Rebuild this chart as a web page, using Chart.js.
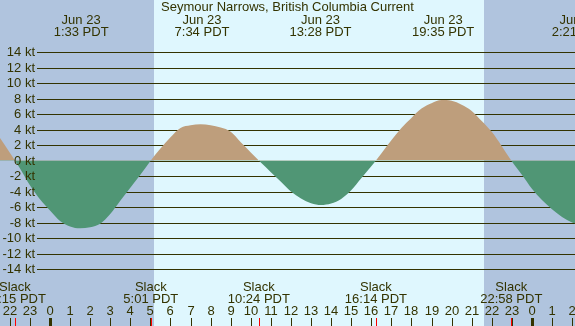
<!DOCTYPE html>
<html>
<head>
<meta charset="utf-8">
<script src="https://cdn.jsdelivr.net/npm/chart.js@4/dist/chart.umd.min.js"></script>
<style>
  html, body { margin: 0; padding: 0; background: #ffffff; }
  #wrap { width: 575px; height: 326px; }
</style>
</head>
<body>
<div id="wrap"><canvas id="c" width="575" height="326"></canvas></div>
<script>
// ---- data (hours relative to midnight Jun 23, current in knots) ----
const hours = [-2.49, -2.0, -1.75, -1.5, -1.0, -0.5, 0.0, 0.5, 1.0, 1.5, 2.0, 2.5, 3.0, 3.5, 4.0, 4.5, 5.02,
               5.5, 6.0, 6.5, 7.0, 7.5, 8.0, 8.5, 9.0, 9.5, 10.0, 10.4,
               10.5, 11.0, 11.5, 12.0, 12.5, 13.0, 13.5, 14.0, 14.5, 15.0, 15.5, 16.0, 16.23,
               16.5, 17.0, 17.5, 18.0, 18.5, 19.0, 19.5, 20.0, 20.5, 21.0, 21.5, 22.0, 22.5, 22.97,
               23.5, 24.0, 24.5, 25.0, 25.5, 26.0, 26.35];
const speeds = [2.9, 1.0, 0, -1.0, -3.2, -5.0, -6.45, -7.8, -8.5, -8.75, -8.6, -8.15, -6.9, -5.2, -3.5, -1.85, 0,
                1.55, 3.0, 4.2, 4.55, 4.67, 4.55, 4.25, 3.7, 2.35, 1.05, 0,
                -0.25, -1.5, -2.75, -4.0, -4.9, -5.5, -5.74, -5.55, -4.95, -3.85, -2.3, -0.75, 0,
                0.9, 2.6, 4.2, 5.5, 6.7, 7.4, 7.8, 7.7, 7.2, 6.4, 5.1, 3.7, 1.85, 0,
                -1.85, -3.65, -5.1, -6.3, -7.3, -8.0, -8.2];

const yTicks = [14, 12, 10, 8, 6, 4, 2, 0, -2, -4, -6, -8, -10, -12, -14];
const hourTicks = [-2, -1, 0, 1, 2, 3, 4, 5, 6, 7, 8, 9, 10, 11, 12, 13, 14, 15, 16, 17, 18, 19, 20, 21, 22, 23, 24, 25, 26];

const slackHours = [-1.75, 5.02, 10.40, 16.23, 22.97];
const slackLabels = ["22:15 PDT", "5:01 PDT", "10:24 PDT", "16:14 PDT", "22:58 PDT"];

const maxHours = [1.55, 7.57, 13.47, 19.58, 26.35];
const maxDates = ["Jun 23", "Jun 23", "Jun 23", "Jun 23", "Jun 24"];
const maxLabels = ["1:33 PDT", "7:34 PDT", "13:28 PDT", "19:35 PDT", "2:21 PDT"];

const nightSpans = [[-2.49, 5.18], [21.61, 26.15]];

const title = "Seymour Narrows, British Columbia Current";

// ---- styling ----
const NIGHT = '#b0c4de';
const DAY = '#dff7fe';
const FLOOD = '#be9e7c';
const EBB = '#509675';
const INK = '#333300';
const FONT = '13px "Liberation Sans", Arial, sans-serif';

const tidePlugin = {
  id: 'tide',
  beforeDraw(chart) {
    const ctx = chart.ctx, xs = chart.scales.x;
    ctx.save();
    ctx.fillStyle = DAY;
    ctx.fillRect(0, 0, chart.width, chart.height);
    ctx.fillStyle = NIGHT;
    nightSpans.forEach(([s, e]) => {
      const x0 = Math.round(xs.getPixelForValue(s));
      const x1 = Math.round(xs.getPixelForValue(e));
      ctx.fillRect(x0, 0, x1 - x0, chart.height);
    });
    ctx.restore();
  },
  beforeDatasetsDraw(chart) {
    const ctx = chart.ctx, ys = chart.scales.y;
    ctx.save();
    ctx.strokeStyle = INK;
    ctx.lineWidth = 1;
    yTicks.forEach(v => {
      const y = Math.round(ys.getPixelForValue(v)) + 0.5;
      ctx.beginPath();
      ctx.moveTo(37, y);
      ctx.lineTo(chart.width, y);
      ctx.stroke();
    });
    ctx.restore();
  },
  afterDatasetsDraw(chart) {
    const ctx = chart.ctx, xs = chart.scales.x, ys = chart.scales.y;
    ctx.save();
    ctx.font = FONT;
    ctx.fillStyle = INK;
    ctx.textBaseline = 'middle';
    ctx.textAlign = 'right';
    yTicks.forEach(v => {
      ctx.fillText(v + ' kt', 35, ys.getPixelForValue(v) + 0.5);
    });
    ctx.textAlign = 'center';
    ctx.fillText(title, 287.5, 7.5);
    maxHours.forEach((h, i) => {
      const x = xs.getPixelForValue(h);
      ctx.fillText(maxDates[i], x, 20);
      ctx.fillText(maxLabels[i], x, 32);
    });
    slackHours.forEach((h, i) => {
      const x = xs.getPixelForValue(h);
      ctx.fillText('Slack', x, 287);
      ctx.fillText(slackLabels[i], x, 299);
    });
    hourTicks.forEach(h => {
      const x = Math.round(xs.getPixelForValue(h));
      const hh = ((h % 24) + 24) % 24;
      ctx.fillStyle = INK;
      ctx.fillText(String(hh), x, 311);
      if (hh === 0) ctx.fillRect(x - 1, 318, 3, 8);
      else ctx.fillRect(x, 318, 1, 8);
    });
    ctx.fillStyle = '#ff0000';
    slackHours.forEach(h => {
      const x = Math.round(xs.getPixelForValue(h));
      ctx.fillRect(x, 318, 1, 8);
    });
    ctx.restore();
  }
};

const pts = hours.map((h, i) => ({ x: h, y: speeds[i] }));

new Chart(document.getElementById('c'), {
  type: 'line',
  data: {
    datasets: [{
      data: pts,
      borderColor: 'rgba(0,0,0,0)',
      borderWidth: 0,
      pointRadius: 0,
      cubicInterpolationMode: 'monotone',
      fill: { target: 'origin', above: FLOOD, below: EBB }
    }]
  },
  options: {
    responsive: false,
    animation: false,
    layout: { padding: 0 },
    plugins: { legend: { display: false }, tooltip: { enabled: false }, title: { display: false } },
    scales: {
      x: { type: 'linear', min: -2.49, max: 26.145, display: false },
      y: { type: 'linear', min: -21.35, max: 20.71, display: false }
    }
  },
  plugins: [tidePlugin]
});
</script>
</body>
</html>
